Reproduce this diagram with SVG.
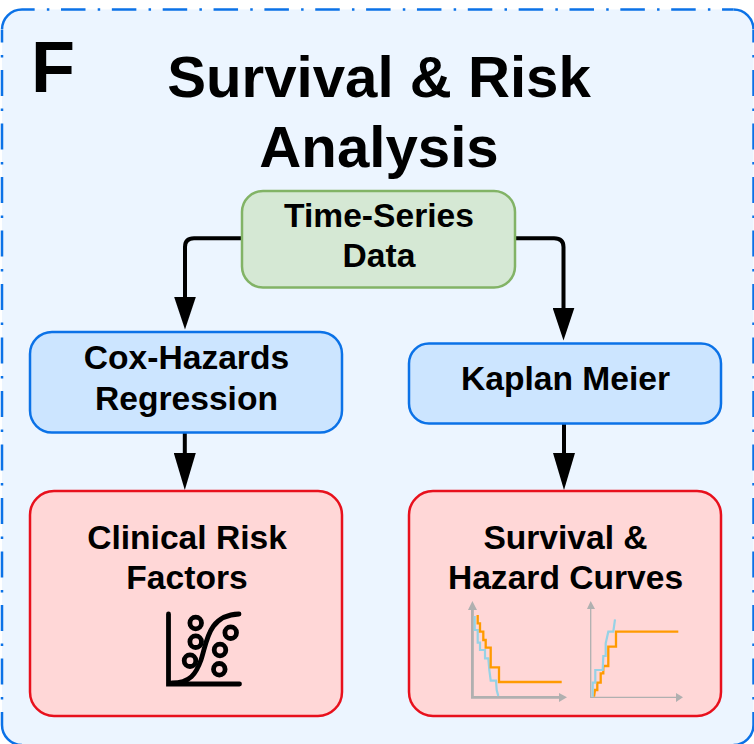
<svg xmlns="http://www.w3.org/2000/svg" width="754" height="744" viewBox="0 0 754 744">
<style>
text{font-family:"Liberation Sans",Arial,sans-serif;font-weight:bold;fill:#000;text-anchor:middle}
.t{font-size:58.2px}
.n{font-size:33.6px}
.b{fill:#cce5ff;stroke:#0b72e7;stroke-width:2.5}
.r{fill:#ffd7d7;stroke:#e8101c;stroke-width:2.5}
.c{fill:none;stroke:#000;stroke-width:4}
.g{fill:none;stroke:#b0b0b0}
.o{fill:none;stroke:#ff9a00;stroke-width:2.300}
.l{fill:none;stroke:#96d2e6;stroke-width:2.200}
.ic{fill:none;stroke:#000;stroke-width:4.8;stroke-linecap:round}
.bd{fill:none;stroke:#0b72e7;stroke-width:2.500}
.h{stroke-dasharray:24.500 12.200 2.500 11.650;stroke-dashoffset:11.850}
.v{stroke-dasharray:26 12.500 2.500 12.500;stroke-dashoffset:13.500}
</style>
<defs>
<marker id="a" markerUnits="userSpaceOnUse" markerWidth="34" markerHeight="22" refX="10" refY="11" orient="auto" viewBox="0 0 34 22"><path d="M0 0L33 11L0 22Z" fill="#000"/></marker>
<marker id="e" markerUnits="userSpaceOnUse" markerWidth="38" markerHeight="22" refX="10" refY="11" orient="auto" viewBox="0 0 38 22"><path d="M0 0L37 11L0 22Z" fill="#000"/></marker>
</defs>
<g id="panel">
<rect x="2" y="9.500" width="751.500" height="735.500" rx="20" fill="#ecf5ff"/>
<path class="bd" d="M2 29.500A20 20 0 0 1 22 9.500M733.500 9.500A20 20 0 0 1 753.500 29.500M753.500 725A20 20 0 0 1 733.500 745M22 745A20 20 0 0 1 2 725"/>
<path class="bd h" d="M22 9.500H733.500"/>
<path class="bd v" d="M753.500 30V725"/>
<path class="bd v" d="M2 30V725"/>
<text x="53" y="92" style="font-size:72px">F</text>
<text x="379" y="96.500" class="t">Survival &amp; Risk</text>
<text x="379" y="166.500" class="t">Analysis</text>
</g>
<g id="connectors">
<path class="c" d="M241 238.300H194Q185 238.300 185 247V306.500" marker-end="url(#a)"/>
<path class="c" d="M516 238.300H554Q563.500 238.300 563.500 247V317.500" marker-end="url(#a)"/>
<path class="c" d="M184.800 433V463" marker-end="url(#e)"/>
<path class="c" d="M564 424V463" marker-end="url(#e)"/>
</g>
<g id="time-series">
<rect x="242" y="191" width="273" height="96.500" rx="21" fill="#d5e8d4" stroke="#82b366" stroke-width="2.500"/>
<text x="379" y="227" class="n">Time-Series</text><text x="379" y="267" class="n">Data</text>
</g>
<g id="cox">
<rect x="30" y="332" width="312" height="100.500" rx="22" class="b"/>
<text x="186.500" y="369" class="n">Cox-Hazards</text><text x="186.500" y="409.500" class="n">Regression</text>
</g>
<g id="kaplan">
<rect x="409" y="343.500" width="312" height="80" rx="20" class="b"/>
<text x="565.500" y="390" class="n">Kaplan Meier</text>
</g>
<g id="clinical">
<rect x="30" y="491" width="312" height="225" rx="24" class="r"/>
<text x="187" y="548.500" class="n">Clinical Risk</text><text x="187" y="588.500" class="n">Factors</text>
<path class="ic" d="M168.500 614V684H239.500"/>
<path class="ic" d="M172 683C190 683 196 674 201 660C207 642 208 615 239 614"/>
<g fill="none" stroke="#000" stroke-width="4.800">
<circle cx="195.700" cy="623" r="5.800"/><circle cx="195.700" cy="641.700" r="5.800"/><circle cx="190" cy="660.700" r="5.800"/>
<circle cx="230.700" cy="632.700" r="5.800"/><circle cx="220" cy="650" r="5.800"/><circle cx="219.300" cy="669.300" r="5.800"/>
</g>
</g>
<g id="curves">
<rect x="409" y="491" width="312" height="225" rx="24" class="r"/>
<text x="565.500" y="548.500" class="n">Survival &amp;</text><text x="565.500" y="588.500" class="n">Hazard Curves</text>
<path class="g" stroke-width="2.800" d="M472.400 607V697.300H561"/>
<path d="M468 610L472.400 601L477 610Z M559 693L567 697.300L559 702Z" fill="#b0b0b0"/>
<path class="g" stroke-width="1.300" d="M590.700 607V697.300H678"/>
<path d="M587 609L590.700 601L595 609Z M676 693L683 697.300L676 702Z" fill="#b0b0b0"/>
<path class="l" d="M474.700 616V630H477.700V642.700H480V650H485V658.300H488.300L489.300 670L490.700 680.700H496L496.700 690L498.300 696"/>
<path class="o" d="M477.700 615V623.300H480V631.700H483.300V640H485.700V647.700H490.700V667.300H499V682H561.700"/>
<path class="o" d="M594 696.700L595 690H597.300V682.700H600.700V673.300H603.300V666H608.300V646.700H616V631.700H678.300"/>
<path class="l" d="M592.700 696.700V682.700H595.300V670H602.700L603.300 656H605.700V643.300L608.300 631.700H613.300L615 619.300"/>
</g>
</svg>
